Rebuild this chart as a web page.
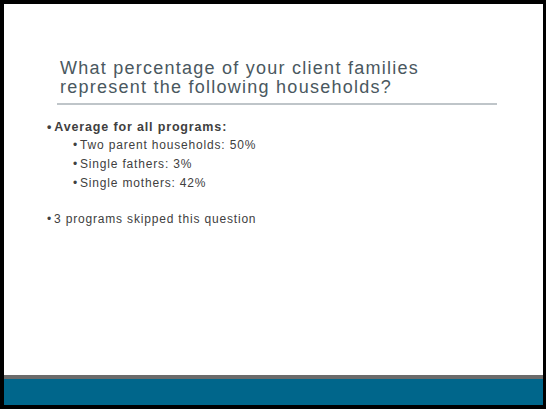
<!DOCTYPE html>
<html>
<head>
<meta charset="utf-8">
<script src="https://cdn.jsdelivr.net/npm/chart.js@4.4.1/dist/chart.umd.min.js"></script>
<style>
  html, body { margin:0; padding:0; background:#000; }
  body { width:546px; height:409px; overflow:hidden; font-family:"Liberation Sans", Arial, sans-serif; }
  #slide { position:absolute; left:4px; top:4px; width:539px; height:401px; background:#fff; overflow:hidden; }
  .t { position:absolute; left:56px; font-size:18px; line-height:18px; height:18px; color:#4a5860; letter-spacing:1.25px; white-space:nowrap; }
  #rule { position:absolute; left:53px; top:99px; width:440px; height:2px; background:#bfc5c9; }
  #body { position:absolute; left:0; top:0; width:539px; color:#404040; }
  .b { position:absolute; white-space:nowrap; line-height:14px; }
  .l1 { font-size:12.5px; font-weight:bold; letter-spacing:0.85px; }
  .l2 { font-size:12px; letter-spacing:0.82px; }
  .l1 .dot { margin-right:2px; }
  .l2 .dot { margin-right:2px; }
  #gray { position:absolute; left:0; top:371px; width:539px; height:4px; background:#6b6b6b; }
  #teal { position:absolute; left:0; top:375px; width:539px; height:26px; background:#00668b; }
</style>
</head>
<body>
<div id="slide">
  <div id="titlebox"></div>
  <div id="rule"></div>
  <div id="body"></div>
  <div id="gray"></div>
  <div id="teal"></div>
</div>
<script>
const titleLines = ["What percentage of your client families", "represent the following households?"];
const heading = "Average for all programs:";
const categories = ["Two parent households", "Single fathers", "Single mothers"];
const values = [50, 3, 42];
const note = "3 programs skipped this question";

const tb = document.getElementById('titlebox');
titleLines.forEach((line, i) => {
  const d = document.createElement('div');
  d.className = 't';
  d.style.top = (55 + i * 19) + 'px';
  d.textContent = line;
  tb.appendChild(d);
});
const body = document.getElementById('body');
function add(text, cls, x, y) {
  const d = document.createElement('div');
  d.className = 'b ' + cls;
  d.style.left = x + 'px';
  d.style.top = y + 'px';
  d.innerHTML = '<span class="dot">•</span>' + text;
  body.appendChild(d);
}
add(heading, 'l1', 43, 116);
const ys = [134, 153, 172];
categories.forEach((c, i) => add(c + ': ' + values[i] + '%', 'l2', 69, ys[i]));
add(note, 'l2', 43, 208);
</script>
</body>
</html>
